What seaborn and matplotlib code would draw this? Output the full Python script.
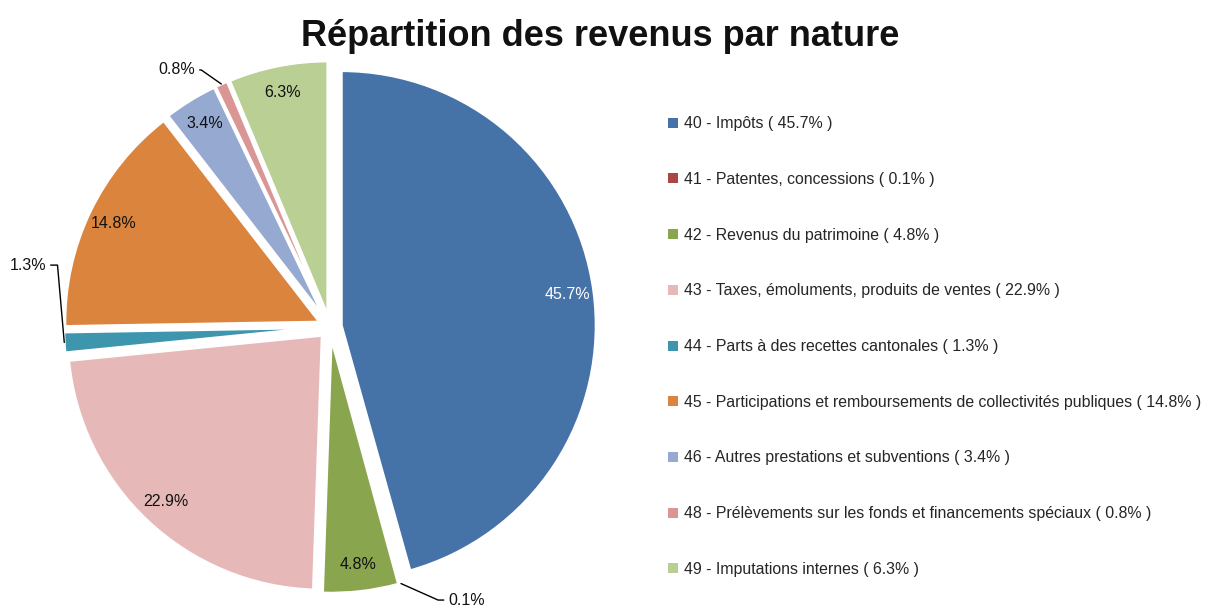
import matplotlib
matplotlib.use("Agg")
import numpy as np
import seaborn as sns
import matplotlib.pyplot as plt
from matplotlib.lines import Line2D

categories = [
    "40 - Impôts",
    "41 - Patentes, concessions",
    "42 - Revenus du patrimoine",
    "43 - Taxes, émoluments, produits de ventes",
    "44 - Parts à des recettes cantonales",
    "45 - Participations et remboursements de collectivités publiques",
    "46 - Autres prestations et subventions",
    "48 - Prélèvements sur les fonds et financements spéciaux",
    "49 - Imputations internes",
]
shares = [45.7, 0.1, 4.8, 22.9, 1.3, 14.8, 3.4, 0.8, 6.3]
colors = ["#4572A7", "#AA4643", "#89A54E", "#E6B9B8", "#3D96AE",
          "#DB843D", "#95A9D1", "#D99694", "#B9CF94"]

sns.set_theme(style="white")
plt.rcParams["font.family"] = ["Liberation Sans", "DejaVu Sans"]
palette = sns.color_palette(colors)

fig = plt.figure(figsize=(12.05, 6.06), dpi=100)
fig.patch.set_facecolor("white")
ax = fig.add_axes([60 / 1205, 9 / 606, 540 / 1205, 540 / 606])

wedges, _ = ax.pie(shares, colors=palette, startangle=90, counterclock=False,
                   explode=[0.045] * len(shares), radius=1.0,
                   wedgeprops=dict(linewidth=2, edgecolor="white"))
ax.set_xlim(-1.06, 1.06)
ax.set_ylim(-1.06, 1.06)
ax.set_aspect("equal")
ax.axis("off")

# outside labels: (text x, text y, angle of the leader line near the slice)
outside = {1: (0.465, -1.072, -24), 4: (-1.115, 0.243, 95), 7: (-0.53, 1.009, 145)}
for i, (w, v) in enumerate(zip(wedges, shares)):
    ang = np.deg2rad((w.theta1 + w.theta2) / 2)
    label = f"{v:.1f}%"
    if i in outside:
        ex, ey = 1.045 * np.cos(ang), 1.045 * np.sin(ang)
        tx, ty, lead = outside[i]
        ha = "left" if tx > ex else "right"
        ax.annotate(label, xy=(ex, ey), xytext=(tx, ty), ha=ha, va="center",
                    fontsize=11.5, color="#111111",
                    arrowprops=dict(arrowstyle="-", color="black", lw=1,
                                    shrinkA=1, shrinkB=0,
                                    connectionstyle=f"angle,angleA=0,angleB={lead},rad=0"))
    else:
        r = 0.94
        ax.text(r * np.cos(ang), r * np.sin(ang), label, ha="center", va="center",
                fontsize=11.5, color="white" if i == 0 else "#111111")

fig.suptitle("Répartition des revenus par nature", x=0.498, y=0.968,
             fontsize=26, fontweight="bold", color="#111111")

handles = [Line2D([0], [0], marker="s", linestyle="none", markersize=6.5,
                  markerfacecolor=c, markeredgewidth=0) for c in palette]
labels = [f"{c} ( {v:.1f}% )" for c, v in zip(categories, shares)]
fig.legend(handles, labels, loc="upper left", bbox_to_anchor=(662 / 1205, 1 - 110 / 606),
           frameon=False, fontsize=11.4, labelspacing=2.57, handlelength=0.6,
           handletextpad=0.4, borderaxespad=0)

fig.savefig("out.png", dpi=100, facecolor="white")
